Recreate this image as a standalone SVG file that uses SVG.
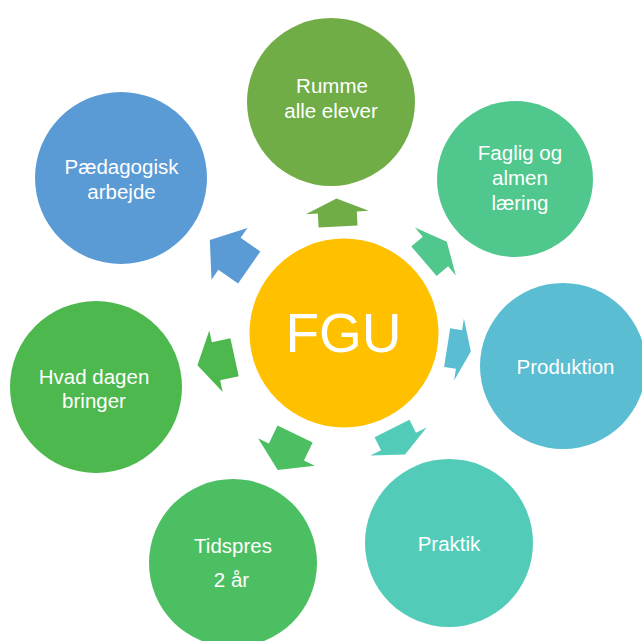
<svg xmlns="http://www.w3.org/2000/svg" width="642" height="641" viewBox="0 0 642 641">
<style>
text{font-family:"Liberation Sans",Arial,sans-serif;fill:#ffffff;text-anchor:middle;font-size:20.5px}
.big{font-size:55px}
</style>
<rect width="642" height="641" fill="#ffffff"/>
<g id="connectors">
<polygon fill="#70AD47" transform="translate(337.3,212.5) rotate(-93.2)" points="14,0 0,-31.5 0,-19.5 -14,-19.5 -14,19.5 0,19.5 0,31.5"/>
<polygon fill="#4FC78D" transform="translate(435.4,251.5) rotate(-40.5)" points="15,0 0,-31.5 0,-19.5 -15,-19.5 -15,19.5 0,19.5 0,31.5"/>
<polygon fill="#5ABDD2" transform="translate(459,349.5) rotate(9)" points="12,0 0,-31.5 0,-19.5 -12,-19.5 -12,19.5 0,19.5 0,31.5"/>
<polygon fill="#52CCB8" transform="translate(398.5,441.5) rotate(63.4)" points="14.5,0 0,-31.5 0,-19.5 -14.5,-19.5 -14.5,19.5 0,19.5 0,31.5"/>
<polygon fill="#4CBF62" transform="translate(286.4,452) rotate(115.8)" points="20,0 0,-31.5 0,-19.5 -20,-19.5 -20,19.5 0,19.5 0,31.5"/>
<polygon fill="#4DB84E" transform="translate(216,361.3) rotate(167.7)" points="19,0 0,-31.5 0,-19.5 -19,-19.5 -19,19.5 0,19.5 0,31.5"/>
<polygon fill="#5B9BD5" transform="translate(229.5,253.8) rotate(-145.2)" points="24,0 0,-31.5 0,-19.5 -24,-19.5 -24,19.5 0,19.5 0,31.5"/>
</g>
<g id="fgu">
<circle cx="344" cy="333" r="94.5" fill="#FFC000"/>
<text class="big" x="343.5" y="352">FGU</text>
</g>
<g id="rumme">
<circle cx="331" cy="102" r="84" fill="#70AD47"/>
<text x="332" y="93">Rumme</text>
<text x="331" y="117.5">alle elever</text>
</g>
<g id="faglig">
<circle cx="515" cy="179" r="78" fill="#4FC78D"/>
<text x="520" y="160">Faglig og</text>
<text x="520" y="185">almen</text>
<text x="520" y="209.5">læring</text>
</g>
<g id="produktion">
<circle cx="563" cy="366" r="83" fill="#5ABDD2"/>
<text x="565.5" y="373.5">Produktion</text>
</g>
<g id="praktik">
<circle cx="449" cy="543" r="84" fill="#52CCB8"/>
<text x="449" y="550.5">Praktik</text>
</g>
<g id="tidspres">
<circle cx="233" cy="563" r="84" fill="#4CBF62"/>
<text x="233" y="553">Tidspres</text>
<text x="231.5" y="587">2 år</text>
</g>
<g id="hvad">
<circle cx="96" cy="387" r="86" fill="#4DB84E"/>
<text x="94" y="383.5">Hvad dagen</text>
<text x="94" y="408">bringer</text>
</g>
<g id="paedagogisk">
<circle cx="121" cy="178" r="86" fill="#5B9BD5"/>
<text x="121.5" y="173.5">Pædagogisk</text>
<text x="121.5" y="199">arbejde</text>
</g>
</svg>
